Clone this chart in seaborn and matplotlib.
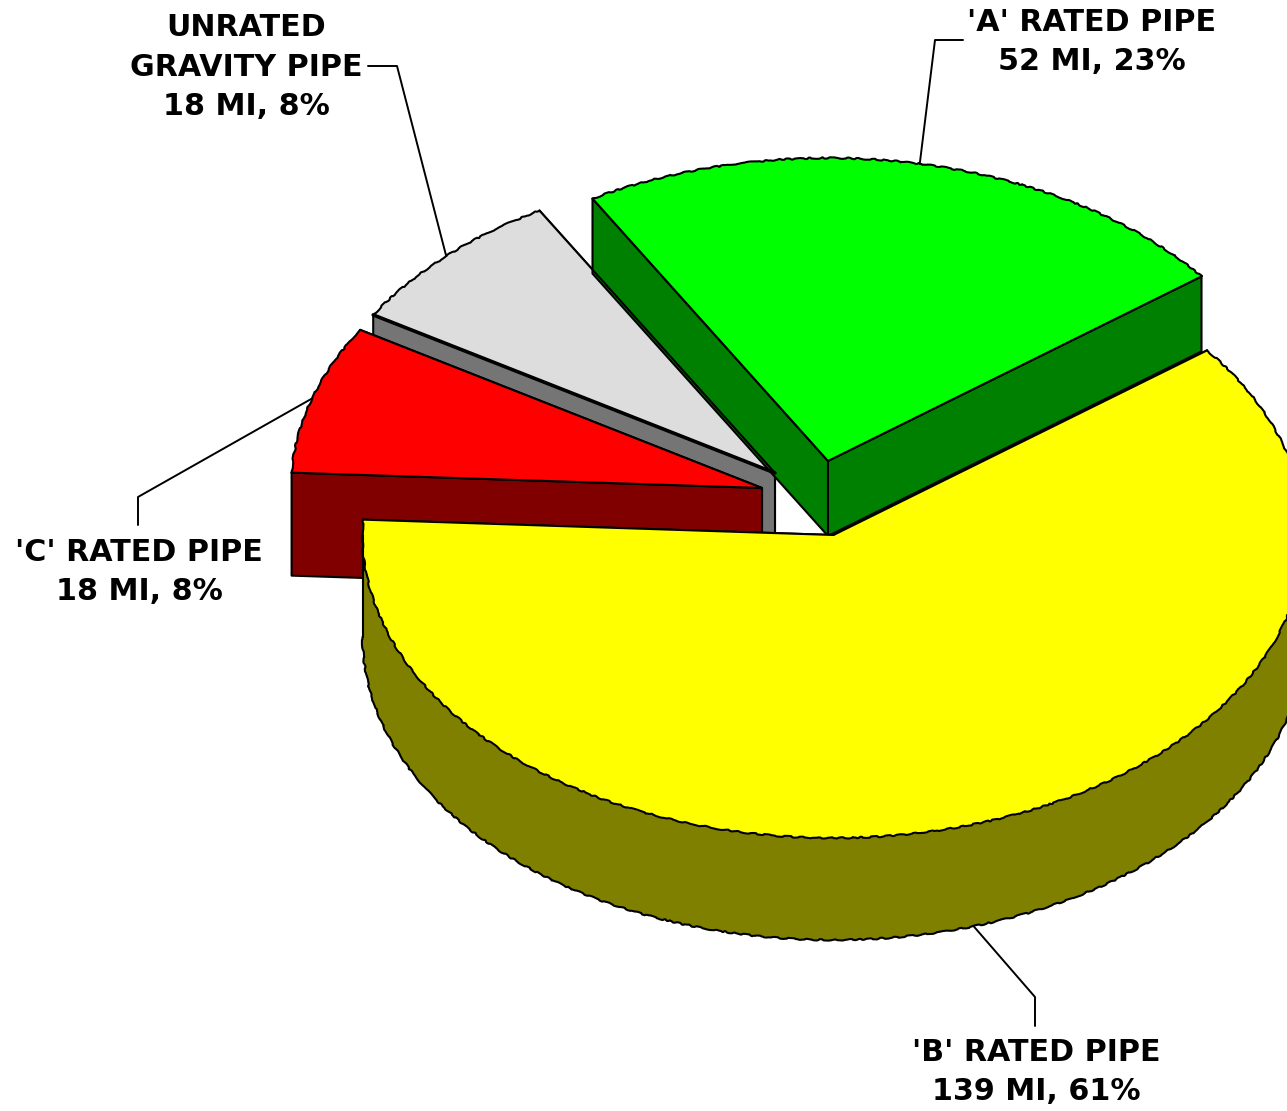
import numpy as np
import matplotlib
matplotlib.use("Agg")
import matplotlib.pyplot as plt
from matplotlib.patches import Polygon
import seaborn as sns

# pipe mileage per rating, clockwise from the top
names = ["'A' RATED PIPE", "'B' RATED PIPE", "'C' RATED PIPE", "UNRATED\nGRAVITY PIPE"]
miles = [52, 139, 18, 18]
top_colors = ["#00FF00", "#FFFF00", "#FF0000", "#DDDDDD"]
side_colors = ["#008000", "#808000", "#800000", "#757575"]

# where each exploded slice sits on the canvas (pixels)
apex_x = [828, 833.5, 762, 775]
apex_y = [461, 535, 488, 473]
depths = [75, 102, 103, 102]
radius_x, radius_y = 471, 303
start_angle = 120.0

# label centres and the elbows of the leader lines
label_x = [1092, 1036, 139, 246]
label_y = [42, 1072, 572, 67]
elbow_x = [[935, 963], [1035, 1035], [138, 138], [397, 368]]
elbow_y = [[40, 40], [997, 1026], [497, 525], [66, 66]]

EDGE = 1.5
FONT = 21.7

sns.set_theme(style="white")
plt.rcParams['font.family'] = ['DejaVu Sans']

fig = plt.figure(figsize=(12.87, 11.11), dpi=100)
ax = fig.add_axes([0, 0, 1, 1])
ax.set_xlim(0, 1287)
ax.set_ylim(1111, 0)
ax.axis("off")

# slice angles come from the mileage
sweep = 360 * np.array(miles) / np.sum(miles)
hi = start_angle - np.concatenate([[0], np.cumsum(sweep)[:-1]])
lo = hi - sweep


def rim(i, theta, drop=0):
    t = np.radians(theta)
    return apex_x[i] + radius_x * np.cos(t), apex_y[i] - radius_y * np.sin(t) + drop


def wavy(x, y):
    # the source outline is a rough polygon, not a smooth curve
    line, = ax.plot(x, y, color="black", lw=EDGE, solid_capstyle="round")
    line.set_sketch_params(scale=0.7, length=26, randomness=8)


def draw_slice(i):
    d = depths[i]
    ax_, ay_ = apex_x[i], apex_y[i]
    # the two cut faces, back one first
    for theta in (lo[i], hi[i]) if i != 0 else (hi[i], lo[i]):
        ex, ey = rim(i, theta)
        ax.add_patch(Polygon([(ax_, ay_), (ex, ey), (ex, ey + d), (ax_, ay_ + d)],
                             facecolor=side_colors[i], edgecolor="black", lw=EDGE, joinstyle="round"))

    # outer wall, only the part that faces the viewer
    a, b = max(lo[i], -180), min(hi[i], 0)
    if a < b:
        th = np.linspace(a, b, 200)
        x, y = rim(i, th)
        ax.fill(np.r_[x, x[::-1]], np.r_[y, y[::-1] + d], color=side_colors[i], lw=0)
        wavy(x, y + d)
        ax.plot([x[0], x[0]], [y[0], y[0] + d], color="black", lw=EDGE)

    # top face
    th = np.linspace(hi[i], lo[i], 200)
    x, y = rim(i, th)
    ax.fill(np.r_[ax_, x], np.r_[ay_, y], color=top_colors[i], lw=0)
    wavy(x, y)
    for theta in (hi[i], lo[i]):
        ex, ey = rim(i, theta)
        ax.plot([ax_, ex], [ay_, ey], color="black", lw=EDGE, solid_capstyle="round")


for i in [3, 0, 2, 1]:
    draw_slice(i)

# heavier line along the lower edge of the grey slice, as in the source
ex, ey = rim(3, hi[3])
ax.plot([apex_x[3], ex], [apex_y[3], ey], color="black", lw=2.6)

# leader lines start on the rim at the middle of each slice
for i in range(4):
    mid = (hi[i] + lo[i]) / 2
    sx, sy = rim(i, mid, depths[i] if i == 1 else 0)
    ax.plot(np.r_[sx, elbow_x[i]], np.r_[sy, elbow_y[i]], color="black", lw=1.4, zorder=1.5)

    pct = round(100 * miles[i] / sum(miles))
    ax.text(label_x[i], label_y[i], f"{names[i]}\n{miles[i]} MI, {pct}%", ha="center", va="center",
            multialignment="center", fontsize=FONT, fontweight="bold", color="black", linespacing=1.46)

fig.savefig("out.png", dpi=100)
